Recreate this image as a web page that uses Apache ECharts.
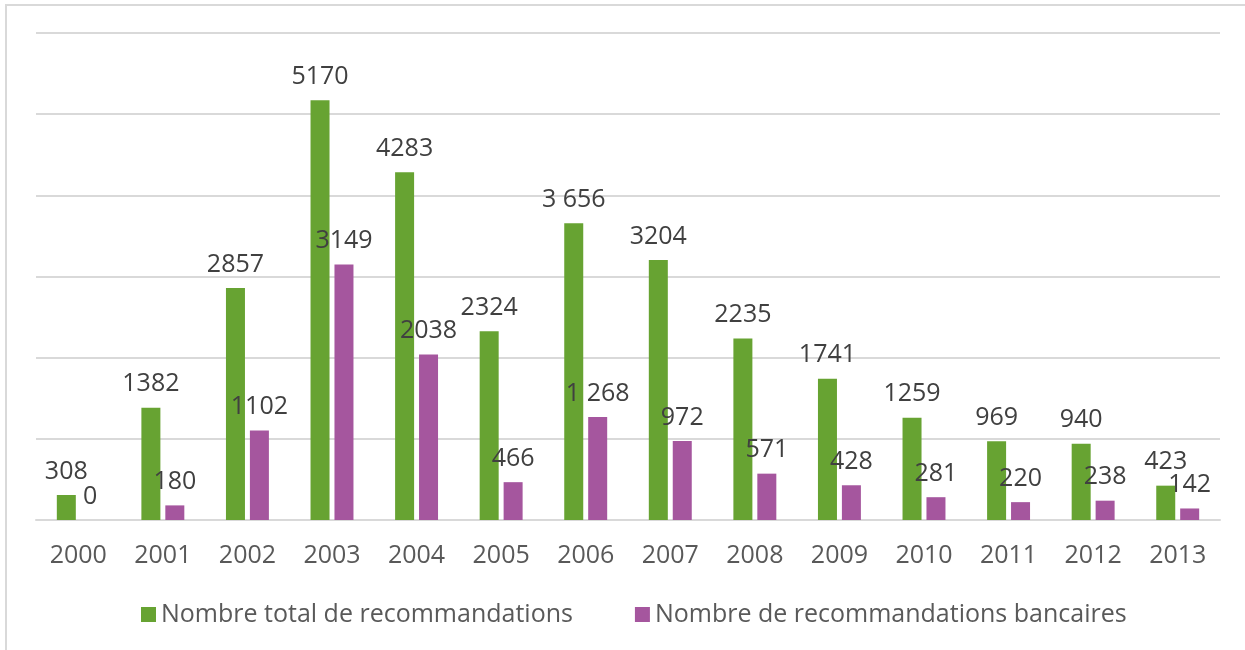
<!DOCTYPE html>
<html>
<head>
<meta charset="utf-8">
<script src="https://cdn.jsdelivr.net/npm/echarts@6/dist/echarts.min.js"></script>
<style>
  html, body { margin: 0; padding: 0; background: #fff; }
  .frame {
    position: absolute;
    left: 5px;
    top: 4px;
    width: 1300px;
    height: 700px;
    border-left: 2px solid #d9d9d9;
    border-top: 2px solid #d9d9d9;
  }
  #chart { position: absolute; left: 0; top: 0; width: 1245px; height: 650px; }
</style>
</head>
<body>
<div class="frame"></div>
<div id="chart"></div>
<script>
// années
var years = ['2000', '2001', '2002', '2003', '2004', '2005', '2006', '2007', '2008', '2009', '2010', '2011', '2012', '2013']
// Nombre total de recommandations
var totalValues = [308, 1382, 2857, 5170, 4283, 2324, 3656, 3204, 2235, 1741, 1259, 969, 940, 423]
var totalLabels = ['308', '1382', '2857', '5170', '4283', '2324', '3 656', '3204', '2235', '1741', '1259', '969', '940', '423']
// Nombre de recommandations bancaires
var bankValues = [0, 180, 1102, 3149, 2038, 466, 1268, 972, 571, 428, 281, 220, 238, 142]
var bankLabels = ['0', '180', '1102', '3149', '2038', '466', '1 268', '972', '571', '428', '281', '220', '238', '142']

var fontName = '"Open Sans", "Noto Sans", sans-serif'

var chart = echarts.init(document.getElementById('chart'))
var options = {
  animation: false,
  textStyle: { fontFamily: fontName },
  grid: {
    left: 36,
    right: 25,
    top: 33,
    bottom: 130
  },
  legend: {
    left: 136,
    top: 597,
    itemWidth: 15,
    itemHeight: 15,
    itemGap: 62,
    icon: 'rect',
    textStyle: { color: '#595959', fontSize: 25, fontFamily: fontName },
    data: ['Nombre total de recommandations', 'Nombre de recommandations bancaires']
  },
  xAxis: {
    type: 'category',
    data: years,
    axisTick: { show: false },
    axisLine: { lineStyle: { color: '#d9d9d9', width: 2 } },
    axisLabel: { color: '#595959', fontSize: 25, margin: 23, fontFamily: fontName }
  },
  yAxis: {
    type: 'value',
    min: 0,
    max: 6000,
    interval: 1000,
    axisLabel: { show: false },
    axisLine: { show: false },
    axisTick: { show: false },
    splitLine: { lineStyle: { color: '#d9d9d9', width: 2 } }
  },
  series: [
    {
      name: 'Nombre total de recommandations',
      type: 'bar',
      barWidth: 19,
      barGap: '26%',
      itemStyle: { color: '#67a332' },
      label: {
        show: true,
        position: 'top',
        distance: 11,
        color: '#404040',
        fontSize: 25,
        fontFamily: fontName,
        formatter: function (p) { return totalLabels[p.dataIndex] }
      },
      data: totalValues
    },
    {
      name: 'Nombre de recommandations bancaires',
      type: 'bar',
      barWidth: 19,
      itemStyle: { color: '#a5569e' },
      label: {
        show: true,
        position: 'top',
        distance: 11,
        color: '#404040',
        fontSize: 25,
        fontFamily: fontName,
        formatter: function (p) { return bankLabels[p.dataIndex] }
      },
      data: bankValues
    }
  ]
}
chart.setOption(options)
</script>
</body>
</html>
